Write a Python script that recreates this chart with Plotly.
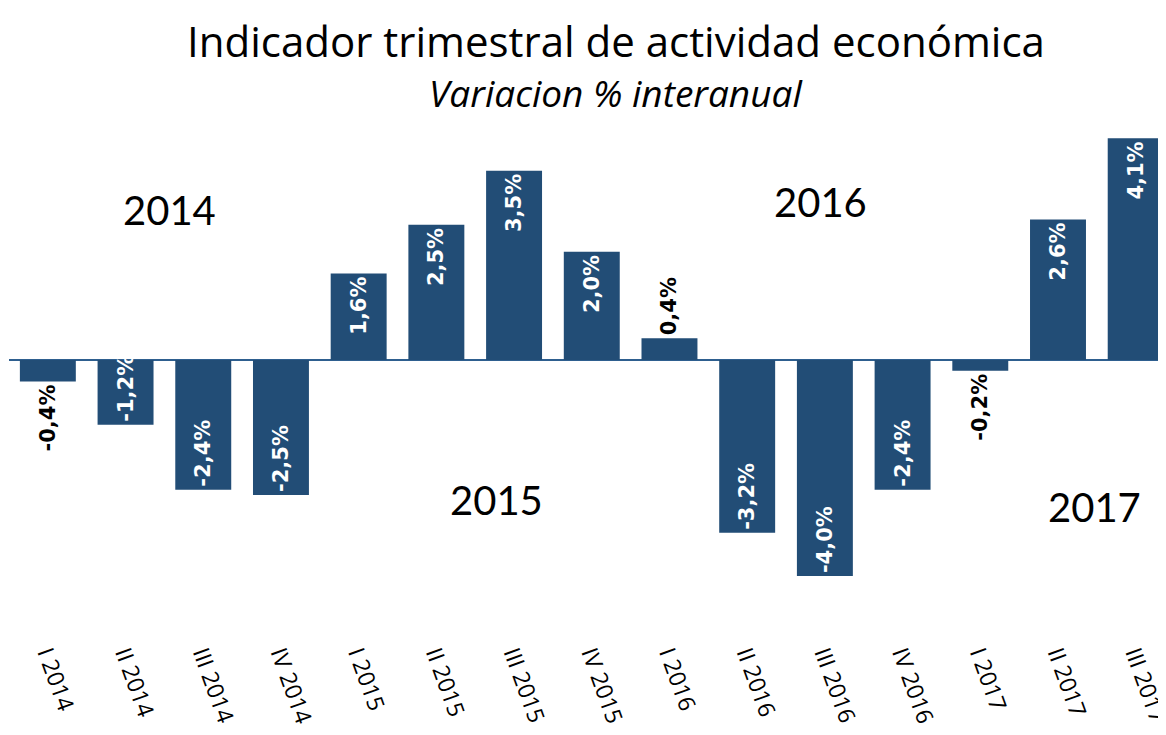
import plotly.graph_objects as go

categories = ["I 2014", "II 2014", "III 2014", "IV 2014", "I 2015", "II 2015", "III 2015",
              "IV 2015", "I 2016", "II 2016", "III 2016", "IV 2016", "I 2017", "II 2017", "III 2017"]
values = [-0.4, -1.2, -2.4, -2.5, 1.6, 2.5, 3.5, 2.0, 0.4, -3.2, -4.0, -2.4, -0.2, 2.6, 4.1]
year_labels = ["2014", "2015", "2016", "2017"]

labels = [f"{v:.1f}".replace(".", ",") + "%" for v in values]
small = [abs(v) < 1.0 for v in values]
positions = ["outside" if s else "inside" for s in small]
text_colors = ["black" if s else "white" for s in small]

fig = go.Figure()
fig.add_trace(go.Bar(
    x=list(range(len(categories))),
    y=values,
    text=labels,
    textposition=positions,
    textangle=-90,
    insidetextanchor="end",
    constraintext="none",
    cliponaxis=False,
    textfont=dict(family="DejaVu Sans, sans-serif", size=21, color=text_colors, weight="bold"),
    marker=dict(color="#224D76", line=dict(width=0)),
    width=0.72,
))

font_main = "Open Sans, sans-serif"
ann = [
    dict(text="Indicador trimestral de actividad económica", x=0.5246, y=1.155, xref="paper", yref="paper",
         showarrow=False, font=dict(family=font_main, size=42, color="black"), xanchor="center", yanchor="middle"),
    dict(text="<i>Variacion % interanual</i>", x=0.5246, y=1.054, xref="paper", yref="paper",
         showarrow=False, font=dict(family=font_main, size=37, color="black"), xanchor="center", yanchor="middle"),
]
year_pos = [(1.57, 2.78), (5.78, -2.59), (9.94, 2.93), (13.47, -2.72)]
for lab, (xx, yy) in zip(year_labels, year_pos):
    ann.append(dict(text=lab, x=xx, y=yy, xref="x", yref="y", showarrow=False,
                    font=dict(family="Lato, Open Sans, sans-serif", size=40, color="black"),
                    xanchor="center", yanchor="middle"))

fig.update_layout(
    width=1158, height=727,
    margin=dict(l=1, r=0, t=112, b=100),
    plot_bgcolor="white", paper_bgcolor="white",
    showlegend=False,
    annotations=ann,
    xaxis=dict(range=[-0.5, 14.39], tickmode="array", tickvals=list(range(len(categories))),
               ticktext=categories, tickangle=70, showgrid=False, showline=False, ticks="",
               ticklabeloverflow="allow",
               tickfont=dict(family="Open Sans, sans-serif", size=23, color="black"),
               automargin=False),
    yaxis=dict(range=[-5.09, 4.44], showgrid=False, showticklabels=False, ticks="",
               zeroline=True, zerolinecolor="#2E5F8F", zerolinewidth=2, showline=False),
)

fig.write_html("out.html")
